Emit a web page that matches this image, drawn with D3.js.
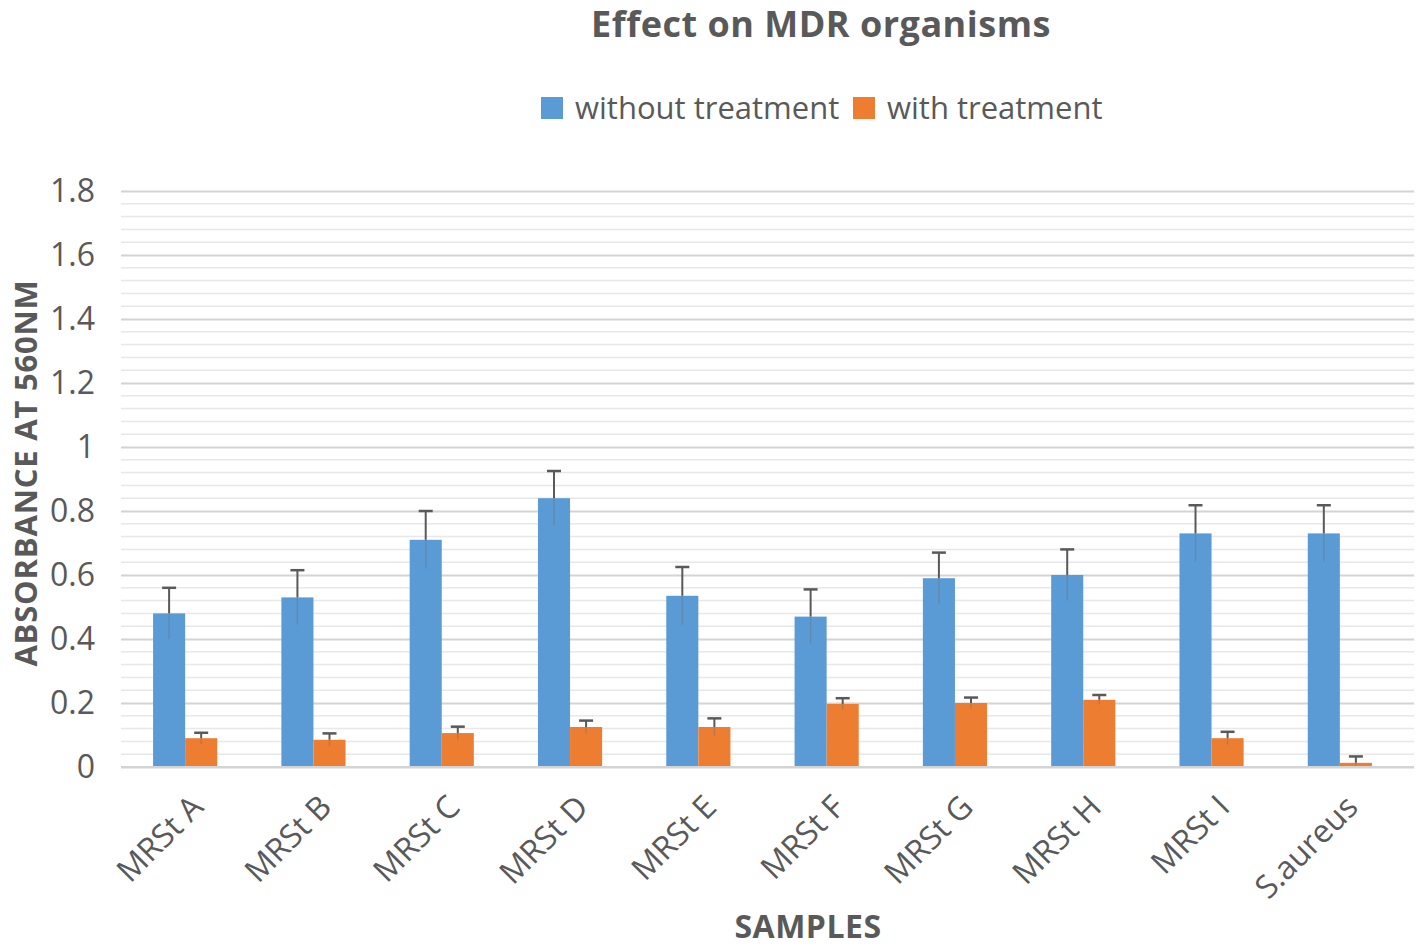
<!DOCTYPE html>
<html>
<head>
<meta charset="utf-8">
<script src="https://cdn.jsdelivr.net/npm/d3@7"></script>
<style>
html,body{margin:0;padding:0;background:#fff;}
svg{display:block;}
text{font-family:"Open Sans",sans-serif;}
</style>
</head>
<body>
<svg id="chart" width="1418" height="949"></svg>
<script>
const categories = ["MRSt A","MRSt B","MRSt C","MRSt D","MRSt E","MRSt F","MRSt G","MRSt H","MRSt I","S.aureus"];
const withoutTreatment = [0.48, 0.53, 0.71, 0.84, 0.535, 0.47, 0.59, 0.60, 0.73, 0.73];
const withoutTreatmentErr = [0.08, 0.085, 0.09, 0.085, 0.09, 0.085, 0.08, 0.08, 0.088, 0.088];
const withTreatment = [0.09, 0.085, 0.106, 0.125, 0.125, 0.197, 0.20, 0.21, 0.09, 0.013];
const withTreatmentErr = [0.017, 0.02, 0.02, 0.02, 0.027, 0.018, 0.017, 0.015, 0.02, 0.02];
const yTicks = [0, 0.2, 0.4, 0.6, 0.8, 1, 1.2, 1.4, 1.6, 1.8];
const seriesNames = ["without treatment", "with treatment"];
const colors = ["#5B9BD5", "#ED7D31"];

const svg = d3.select("#chart");
const x = d3.scaleBand().domain(categories).range([121, 1404]).paddingInner(0).paddingOuter(0);
const y = d3.scaleLinear().domain([0, 1.8]).range([767, 191]);
const gridRight = 1414;

// minor gridlines
const minor = d3.range(0, 1.8001, 0.04).filter(v => Math.abs(v / 0.2 - Math.round(v / 0.2)) > 1e-6);
svg.append("g").selectAll("line").data(minor).join("line")
  .attr("x1", x.range()[0]).attr("x2", gridRight)
  .attr("y1", d => y(d)).attr("y2", d => y(d))
  .attr("stroke", "#e8e8e8").attr("stroke-width", 1.5);

// y axis with major gridlines
const yAxis = d3.axisLeft(y).tickValues(yTicks).tickFormat(d => d3.format("~g")(d))
  .tickSize(-(gridRight - x.range()[0])).tickPadding(26);
const gy = svg.append("g").attr("transform", `translate(${x.range()[0]},0)`).call(yAxis);
gy.select(".domain").remove();
gy.selectAll(".tick line").attr("stroke", "#d4d4d4").attr("stroke-width", 2);
gy.selectAll(".tick text").attr("fill", "#595959").style("font-size", "32px").style("font-family", "'Open Sans',sans-serif");

// bars
const bw = x.bandwidth() * 0.25;
const g = svg.append("g");
const series = [withoutTreatment, withTreatment];
const errs = [withoutTreatmentErr, withTreatmentErr];
series.forEach((vals, si) => {
  g.append("g").selectAll("rect").data(categories).join("rect")
    .attr("x", (c) => x(c) + x.bandwidth() * 0.25 + si * bw)
    .attr("y", (c, i) => y(vals[i]))
    .attr("width", bw)
    .attr("height", (c, i) => y(0) - y(vals[i]))
    .attr("fill", colors[si]);
});
// error bars
series.forEach((vals, si) => {
  const eg = g.append("g");
  categories.forEach((c, i) => {
    const cx = x(c) + x.bandwidth() * 0.25 + si * bw + bw / 2;
    const top = y(vals[i] + errs[si][i]);
    const bot = y(Math.max(0, vals[i] - errs[si][i]));
    eg.append("line").attr("x1", cx).attr("x2", cx).attr("y1", y(vals[i])).attr("y2", bot)
      .attr("stroke", "#6d6d6d").attr("stroke-width", 1.5).attr("opacity", 0.35);
    eg.append("line").attr("x1", cx).attr("x2", cx).attr("y1", top).attr("y2", y(vals[i]))
      .attr("stroke", "#595959").attr("stroke-width", 2);
    eg.append("line").attr("x1", cx - 7).attr("x2", cx + 7).attr("y1", top).attr("y2", top)
      .attr("stroke", "#595959").attr("stroke-width", 2.5);
  });
});

// x axis baseline
svg.append("line").attr("x1", x.range()[0]).attr("x2", gridRight).attr("y1", y(0)).attr("y2", y(0))
  .attr("stroke", "#d4d4d4").attr("stroke-width", 2);

// x labels
const xAxis = d3.axisBottom(x).tickSize(0).tickPadding(0);
const gx = svg.append("g").attr("transform", `translate(0,${y(0)})`).call(xAxis);
gx.select(".domain").remove();
gx.selectAll(".tick text")
  .attr("fill", "#595959").style("font-size", "32px").style("font-family", "'Open Sans',sans-serif")
  .attr("text-anchor", "end")
  .attr("dy", "0")
  .attr("transform", "translate(20,42) rotate(-45)");

// title
svg.append("text").attr("x", 821).attr("y", 37).attr("text-anchor", "middle")
  .attr("fill", "#595959").style("font-size", "36px").style("font-weight", "bold")
  .style("letter-spacing", "0.5px")
  .text("Effect on MDR organisms");

// legend
const legend = svg.append("g");
const legendItems = [{x: 541, tx: 575}, {x: 853, tx: 887}];
seriesNames.forEach((n, i) => {
  legend.append("rect").attr("x", legendItems[i].x).attr("y", 97).attr("width", 22).attr("height", 22).attr("fill", colors[i]);
  legend.append("text").attr("x", legendItems[i].tx).attr("y", 119).attr("fill", "#595959")
    .style("font-size", "31px").text(n);
});

// axis titles
svg.append("text").attr("transform", "translate(37,473) rotate(-90)").attr("text-anchor", "middle")
  .attr("fill", "#595959").style("font-size", "31px").style("font-weight", "bold")
  .style("letter-spacing", "0.8px")
  .text("ABSORBANCE AT 560NM");
svg.append("text").attr("x", 808).attr("y", 938).attr("text-anchor", "middle")
  .attr("fill", "#595959").style("font-size", "32px").style("font-weight", "bold")
  .style("letter-spacing", "0.5px")
  .text("SAMPLES");
</script>
</body>
</html>
